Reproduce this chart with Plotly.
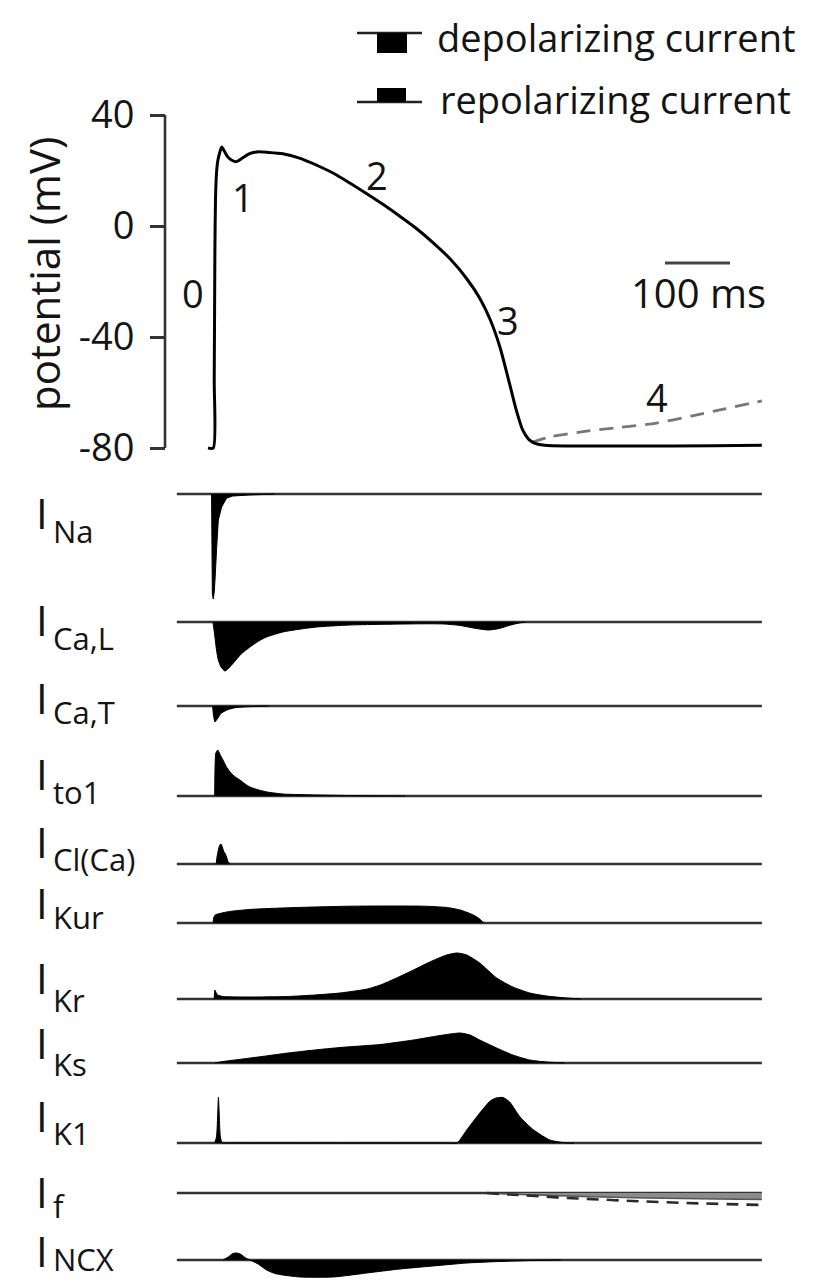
import plotly.graph_objects as go

# ---------------- data ----------------
# Action potential: time (ms) and membrane potential (mV)
ap_time = [-3, 5, 6.5, 7.5, 8.5, 10, 12, 15, 18, 22, 27, 33, 41, 50, 60, 72, 90, 112, 140, 165,
           190, 215, 240, 266, 292, 318, 343, 370, 395, 415, 431, 446, 461, 472, 481, 490, 500, 515, 849]
ap_mv = [-80, -80, -55, -10, 10, 19, 23.5, 26.5, 28.5, 27, 25, 23.8, 23.2, 24.5, 26, 26.7, 26.5, 26, 24.3, 21.8,
         19, 15.5, 11.8, 7.8, 3.5, -1, -6, -12, -19, -26, -33.7, -43.6, -57, -67, -73.5, -76.8, -78.3, -79, -79]
# Phase 4 pacemaker depolarisation (dashed)
pace_time = [495, 523, 574, 630, 687, 740, 790, 849]
pace_mv = [-78, -76, -74.1, -72.6, -71, -68.5, -66, -63]

phase_labels = ["0", "1", "2", "3", "4"]
phase_time = [-26, 51, 257, 459, 688]
phase_mv = [-24, 10.5, 18.4, -34, -61.6]

mv_tickvals = [-80, -40, 0, 40]
mv_ticktext = ["-80", "-40", "0", "40"]

time_window = [-51, 849]          # ms, span of the current baselines
scale_bar_ms = [700, 800]         # 100 ms scale bar
scale_bar_mv = -13.3
scale_label = "100 ms"

legend_labels = ["depolarizing current", "repolarizing current"]

# Ionic currents: time (ms) and amplitude (a.u.; + outward/repolarizing, - inward/depolarizing)
current_names = ["Na", "Ca,L", "Ca,T", "to1", "Cl(Ca)", "Kur", "Kr", "Ks", "K1", "f", "NCX"]

i_na_t = [2.4, 2.8, 3.6, 5, 6.5, 7.7, 9.5, 10.3, 12.8, 17.9, 25.7, 35, 60, 100]
i_na_v = [0, -50, -100, -105, -98, -86, -70, -53, -26, -13, -4, -2, -1, 0]

i_cal_t = [4.5, 7, 10, 12.8, 17, 23, 29, 36, 48, 61.5, 75, 87, 112, 140, 164, 215, 270, 330, 360,
           385, 405, 428, 445, 460, 472, 485]
i_cal_v = [0, -12, -28, -38, -45, -49, -46, -41, -32, -25, -19, -15, -10, -7, -5, -3, -2.3, -1.8, -2,
           -3.5, -6, -8, -6.5, -3.5, -1.5, 0]

i_cat_t = [4, 5.5, 7.7, 10, 12.3, 16, 20, 28, 41, 60, 90]
i_cat_v = [0, -10, -16, -14, -12, -8, -6, -3.5, -1.5, -0.7, 0]

i_to1_t = [7.2, 7.8, 9, 12, 15, 20, 25, 31, 38, 46, 54, 61.5, 75, 88, 112, 165, 230, 300]
i_to1_v = [0, 30, 43, 46, 42, 36, 29.5, 24, 19.5, 16, 12, 9, 6, 4, 2, 1, 0.3, 0]

i_clca_t = [9.5, 11, 12.8, 15, 17, 19, 21.5, 23, 26, 28, 31]
i_clca_v = [0, 8, 14, 19, 20, 17, 12, 11, 6, 2, 0]

i_kur_t = [5, 5.5, 8, 15, 30, 60, 110, 160, 215, 280, 330, 365, 385, 398, 408, 415, 420, 422]
i_kur_v = [0, 5, 8, 9.5, 11.5, 13.5, 15, 16, 16.8, 17, 16.8, 15.5, 13, 10, 7, 4, 1, 0]

i_kr_t = [6.5, 7.5, 9, 12, 20, 60, 120, 161, 200, 242, 262, 287, 313, 338, 364, 380, 395, 415, 441,
          466, 492, 518, 549, 570]
i_kr_v = [0, 9, 7, 4, 2.5, 2, 2.5, 4, 6, 10, 14, 21, 29, 37, 44, 46, 44, 36, 21, 12, 6, 3, 1, 0]

i_ks_t = [8, 20, 50, 80, 120, 161, 200, 242, 262, 313, 340, 364, 385, 400, 415, 441, 466, 492, 518, 545]
i_ks_v = [0, 1.5, 4, 6.5, 10, 13, 15.5, 17.5, 18.5, 23, 26, 28.5, 30, 28, 23, 15, 8, 3, 1, 0]

i_k1_t = [7, 10, 12, 13, 14, 16, 19, 24, 100, 250, 365, 380, 395, 415, 431, 440, 451, 461, 477, 498, 523,
          549, 560]
i_k1_v = [0, 6, 32, 46, 32, 6, 0, 0, 0, 0, 0, 0, 13, 30, 42, 45, 45.5, 41, 26, 13, 3, 0, 0]

i_f_t = [426, 480, 550, 620, 700, 780, 849]
i_f_v = [0, -1.5, -3, -4.2, -5.2, -6, -6.5]
i_f_pace_t = [426, 460, 500, 550, 600, 650, 700, 760, 849]
i_f_pace_v = [0, -1.5, -3, -5, -6.5, -8, -9.2, -10.5, -12]

i_ncx_t = [20, 28, 35, 41.5, 48, 55, 61.5, 74, 87, 100, 112, 138, 190, 241, 292, 343, 395, 446, 497, 540]
i_ncx_v = [0, 3, 6.5, 7, 5.5, 2, 0, -4, -10, -13.5, -15, -17, -17, -13, -9, -6, -3, -1.5, -0.5, 0]

current_t = [i_na_t, i_cal_t, i_cat_t, i_to1_t, i_clca_t, i_kur_t, i_kr_t, i_ks_t, i_k1_t, i_f_t, i_ncx_t]
current_v = [i_na_v, i_cal_v, i_cat_v, i_to1_v, i_clca_v, i_kur_v, i_kr_v, i_ks_v, i_k1_v, i_f_v, i_ncx_v]

# ---------------- layout geometry ----------------
W, H = 819, 1283
FONT = "Open Sans"
TXT = "#141414"
X0_PX, PX_PER_MS = 210, 0.65
x_range = [(0 - X0_PX) / PX_PER_MS, (W - X0_PX) / PX_PER_MS]


def py(p):
    return 1 - p / H


def px(p):
    return p / W


# AP panel: -80 mV at y=448px, 40 mV at y=115px
ap_top_px, ap_bot_px = 105, 458
mv_per_px = 120 / (448 - 115)
ap_range = [-80 - (ap_bot_px - 448) * mv_per_px, 40 + (115 - ap_top_px) * mv_per_px]

panel_base_px = [494, 622, 706, 796, 864, 923, 999, 1063, 1143, 1193, 1260]
label_i_px = [513, 620, 697, 774, 841, 902, 977, 1042, 1115, 1191, 1250]
label_sub_px = [531, 638, 712, 792, 859, 917, 1000, 1064, 1133, 1206, 1259]

fig = go.Figure()

# AP
fig.add_trace(go.Scatter(x=pace_time, y=pace_mv, mode="lines", xaxis="x", yaxis="y",
                         line=dict(color="#777777", width=2.8, dash="14px,9px", shape="spline", smoothing=0.8),
                         hoverinfo="skip"))
fig.add_trace(go.Scatter(x=ap_time, y=ap_mv, mode="lines", xaxis="x", yaxis="y",
                         line=dict(color="black", width=3, shape="spline", smoothing=0.7), hoverinfo="skip"))
fig.add_trace(go.Scatter(x=scale_bar_ms, y=[scale_bar_mv, scale_bar_mv], mode="lines", xaxis="x", yaxis="y",
                         line=dict(color="#444444", width=3), hoverinfo="skip"))

layout_axes = {}
for i, (tt, vv) in enumerate(zip(current_t, current_v)):
    n = i + 2
    b = panel_base_px[i]
    up, down = 55, min(110, H - b)
    layout_axes[f"yaxis{n}"] = dict(domain=[py(b + down), py(b - up)], range=[-down, up],
                                    visible=False, anchor="x", fixedrange=True, automargin=False)
    ya = f"y{n}"
    shape = "linear" if current_names[i] == "Na" else "spline"
    fig.add_trace(go.Scatter(x=time_window, y=[0, 0], mode="lines", xaxis="x", yaxis=ya,
                             line=dict(color="#333333", width=2.6), hoverinfo="skip"))
    if current_names[i] == "f":
        fig.add_trace(go.Scatter(x=tt, y=vv, mode="lines", xaxis="x", yaxis=ya, fill="tozeroy",
                                 fillcolor="#8c8c8c", line=dict(color="#555555", width=1.5, shape="spline"),
                                 hoverinfo="skip"))
        fig.add_trace(go.Scatter(x=i_f_pace_t, y=i_f_pace_v, mode="lines", xaxis="x", yaxis=ya,
                                 line=dict(color="#2a2a2a", width=2.6, dash="12px,8px", shape="spline"),
                                 hoverinfo="skip"))
    else:
        fig.add_trace(go.Scatter(x=tt, y=vv, mode="lines", xaxis="x", yaxis=ya, fill="tozeroy",
                                 fillcolor="black", line=dict(color="black", width=1, shape=shape, smoothing=0.6),
                                 hoverinfo="skip"))

annotations = []
for lab, t, v in zip(phase_labels, phase_time, phase_mv):
    annotations.append(dict(x=t, y=v, xref="x", yref="y", text=lab, showarrow=False,
                            font=dict(family=FONT, size=38, color=TXT), xanchor="center", yanchor="middle"))
annotations.append(dict(x=sum(scale_bar_ms) / 2 + 1, y=-24.1, xref="x", yref="y", text=scale_label,
                        showarrow=False, font=dict(family=FONT, size=40, color=TXT),
                        xanchor="center", yanchor="middle"))
annotations.append(dict(x=px(43), y=py(274), xref="paper", yref="paper", text="potential (mV)",
                        textangle=-90, showarrow=False, font=dict(family=FONT, size=42, color=TXT),
                        xanchor="center", yanchor="middle"))
for i, name in enumerate(current_names):
    annotations.append(dict(x=px(42), y=py(label_i_px[i]), xref="paper", yref="paper", text="I",
                            showarrow=False, font=dict(family=FONT, size=42, color=TXT),
                            xanchor="center", yanchor="middle"))
    annotations.append(dict(x=px(51), y=py(label_sub_px[i]), xref="paper", yref="paper", text=name,
                            showarrow=False, font=dict(family=FONT, size=31, color=TXT),
                            xanchor="left", yanchor="middle"))
# legend text
annotations.append(dict(x=px(435), y=py(37), xref="paper", yref="paper", text=legend_labels[0],
                        showarrow=False, font=dict(family=FONT, size=38, color=TXT),
                        xanchor="left", yanchor="middle"))
annotations.append(dict(x=px(438), y=py(99), xref="paper", yref="paper", text=legend_labels[1],
                        showarrow=False, font=dict(family=FONT, size=38, color=TXT),
                        xanchor="left", yanchor="middle"))

shapes = [
    # y-axis spine from -80 to 40 mV
    dict(type="line", xref="paper", yref="y", x0=px(165), x1=px(165), y0=-80, y1=40,
         line=dict(color="#333333", width=2.6)),
    # legend icons
    dict(type="line", xref="paper", yref="paper", x0=px(357), x1=px(422), y0=py(33), y1=py(33),
         line=dict(color="#222222", width=2.5)),
    dict(type="rect", xref="paper", yref="paper", x0=px(377), x1=px(407), y0=py(53), y1=py(33),
         fillcolor="black", line=dict(width=0)),
    dict(type="line", xref="paper", yref="paper", x0=px(357), x1=px(422), y0=py(102), y1=py(102),
         line=dict(color="#222222", width=2.5)),
    dict(type="rect", xref="paper", yref="paper", x0=px(377), x1=px(406), y0=py(102), y1=py(88),
         fillcolor="black", line=dict(width=0)),
]

fig.update_layout(
    width=W, height=H, autosize=False,
    margin=dict(l=0, r=0, t=0, b=0, pad=0, autoexpand=False),
    paper_bgcolor="white", plot_bgcolor="rgba(0,0,0,0)", showlegend=False,
    xaxis=dict(domain=[0, 1], range=x_range, visible=False, anchor="free", position=0,
               fixedrange=True, automargin=False),
    yaxis=dict(domain=[py(ap_bot_px), py(ap_top_px)], range=ap_range, anchor="free", position=px(165),
               tickvals=mv_tickvals, ticktext=mv_ticktext, ticks="outside", ticklen=15, tickwidth=2.6,
               tickcolor="#333333", showline=False, showgrid=False, zeroline=False, automargin=False,
               tickfont=dict(family=FONT, size=38, color=TXT), ticklabelstandoff=8, fixedrange=True),
    annotations=annotations, shapes=shapes,
    **layout_axes,
)

fig.write_html("out.html", config={"displayModeBar": False},
               post_script="document.body.style.margin='0';document.documentElement.style.overflow='hidden';")
